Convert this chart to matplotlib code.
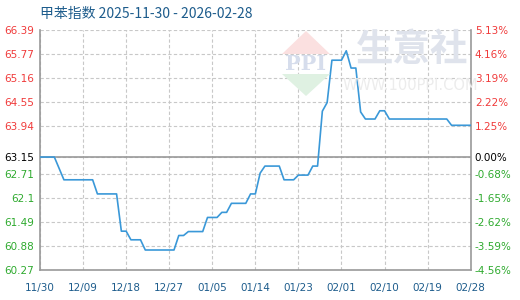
import matplotlib
matplotlib.use("Agg")
import numpy as np
import matplotlib.pyplot as plt
from matplotlib.patches import Polygon

# daily toluene index, 2025-11-30 .. 2026-02-28
values = [
    63.15, 63.15, 63.15, 63.15, 62.86, 62.57, 62.57,
    62.57, 62.57, 62.57, 62.57, 62.57, 62.21, 62.21,
    62.21, 62.21, 62.21, 61.26, 61.26, 61.04, 61.04,
    61.04, 60.78, 60.78, 60.78, 60.78, 60.78, 60.78,
    60.78, 61.15, 61.15, 61.25, 61.25, 61.25, 61.25,
    61.61, 61.61, 61.61, 61.74, 61.74, 61.97, 61.97,
    61.97, 61.97, 62.21, 62.21, 62.74, 62.92, 62.92,
    62.92, 62.92, 62.57, 62.57, 62.57, 62.69, 62.69,
    62.69, 62.92, 62.92, 64.32, 64.54, 65.62, 65.62,
    65.62, 65.86, 65.42, 65.42, 64.30, 64.12, 64.12,
    64.12, 64.33, 64.33, 64.12, 64.12, 64.12, 64.12,
    64.12, 64.12, 64.12, 64.12, 64.12, 64.12, 64.12,
    64.12, 64.12, 63.96, 63.96, 63.96, 63.96, 63.96,
]
base = 63.15
x_labels = ["11/30", "12/09", "12/18", "12/27", "01/05", "01/14",
            "01/23", "02/01", "02/10", "02/19", "02/28"]
y_ticks = [66.39, 65.77, 65.16, 64.55, 63.94, 63.15, 62.71, 62.10, 61.49, 60.88, 60.27]
y_labels = ["66.39", "65.77", "65.16", "64.55", "63.94", "63.15",
            "62.71", "62.1", "61.49", "60.88", "60.27"]
pct_labels = ["5.13%", "4.16%", "3.19%", "2.22%", "1.25%", "0.00%",
              "-0.68%", "-1.65%", "-2.62%", "-3.59%", "-4.56%"]

RED = "#f03a3a"
GREEN = "#2eaa2e"
BLUE_TXT = "#1d5c8c"


def label_color(v):
    if v > base:
        return RED
    if v < base:
        return GREEN
    return "black"


fig = plt.figure(figsize=(5.2, 3.0), dpi=100)
W, H = 520.0, 300.0


def px(x, y):
    return (x / W, 1 - y / H)


# watermark
wm = dict(transform=fig.transFigure, zorder=0)
fig.patches.append(Polygon([px(282, 54), px(306, 31), px(330, 54)], closed=True,
                           fc="#fbe0e0", ec="none", **wm))
fig.patches.append(Polygon([px(282, 74), px(330, 74), px(306, 96)], closed=True,
                           fc="#dff1e2", ec="none", **wm))
fig.text(*px(306, 64), "PPI", ha="center", va="center", fontsize=15,
         fontweight="bold", family="DejaVu Serif", color="#d6ddec", zorder=0)
fig.text(*px(412, 50), "生意社", ha="center", va="center", fontsize=27,
         fontweight="bold", family=["Noto Sans CJK SC", "DejaVu Sans"],
         color="#dfe3ec", zorder=0)
fig.text(*px(410, 86), "WWW.100PPI.COM", ha="center", va="center", fontsize=10.5,
         color="#ececec", zorder=0)

ax = fig.add_axes([40 / W, 30 / H, 430.7 / W, 240 / H])
ax.patch.set_alpha(0)
x = np.arange(len(values))
ax.plot(x, values, color="#3a98d8", lw=1.2, zorder=3)

ax.set_xlim(0, len(values) - 1)
ax.set_ylim(y_ticks[-1], y_ticks[0])
ax.set_xticks(x[::9])
ax.set_xticklabels(x_labels, color=BLUE_TXT, fontsize=7.5)
ax.set_yticks(y_ticks)
ax.set_yticklabels(y_labels, fontsize=7.5)
for t, v in zip(ax.get_yticklabels(), y_ticks):
    t.set_color(label_color(v))
ax.tick_params(axis="both", length=0)
ax.tick_params(axis="y", pad=4)
ax.tick_params(axis="x", pad=9)

ax.grid(True, ls=(0, (3, 2)), color="#c8c8c8", lw=0.8, zorder=1)
ax.axhline(base, color="#999999", lw=1.2, zorder=2)

for s in ["left", "right", "bottom"]:
    ax.spines[s].set_color("#999999")
    ax.spines[s].set_linewidth(1.2)
ax.spines["top"].set_visible(False)

ax2 = ax.twinx()
ax2.set_ylim(ax.get_ylim())
ax2.set_yticks(y_ticks)
ax2.set_yticklabels(pct_labels, fontsize=7.5)
for t, v in zip(ax2.get_yticklabels(), y_ticks):
    t.set_color(label_color(v))
ax2.tick_params(axis="y", length=0, pad=3)
for s in ["left", "right", "bottom", "top"]:
    ax2.spines[s].set_visible(False)

fig.text(*px(40, 14), "甲苯指数 2025-11-30 - 2026-02-28", ha="left", va="center",
         fontsize=10, color=BLUE_TXT, family=["Noto Sans CJK SC", "DejaVu Sans"])

fig.savefig("out.png", dpi=100)
